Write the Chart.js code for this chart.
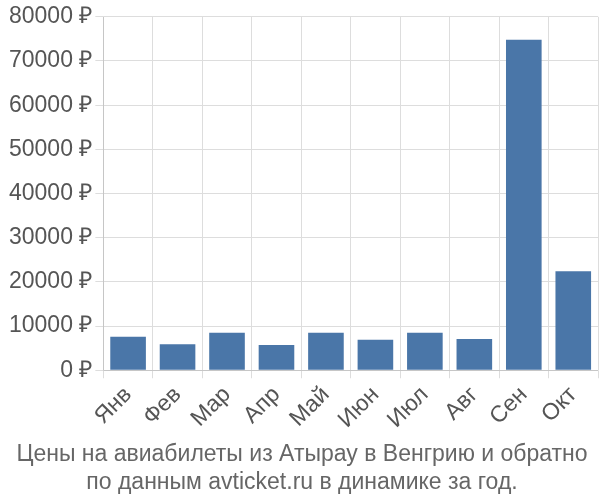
<!DOCTYPE html>
<html><head><meta charset="utf-8">
<script src="https://cdn.jsdelivr.net/npm/chart.js@4"></script>
<style>body{margin:0;background:#fff}#w{width:600px;height:500px}</style></head>
<body><div id="w"><canvas id="c"></canvas></div>
<script>
const categories=["Янв","Фев","Мар","Апр","Май","Июн","Июл","Авг","Сен","Окт"];
const prices=[7600,5900,8500,5700,8500,6900,8500,7100,74800,22400];
const titleLines=["Цены на авиабилеты из Атырау в Венгрию и обратно","по данным avticket.ru в динамике за год."];
new Chart(document.getElementById('c'),{type:'bar',
data:{labels:categories,datasets:[{data:prices,backgroundColor:'#4a76a8',barPercentage:0.72,categoryPercentage:1}]},
options:{responsive:true,maintainAspectRatio:false,animation:false,
layout:{padding:{left:6,right:2,top:4}},
plugins:{legend:{display:false},title:{display:true,position:'bottom',text:titleLines,color:'#666',font:{family:'Liberation Sans',size:23,weight:'normal'},padding:{top:4,bottom:4}}},
scales:{x:{grid:{color:'#ddd',drawTicks:true,tickLength:8},ticks:{color:'#555',font:{family:'Liberation Sans',size:23},maxRotation:45,minRotation:45}},
y:{min:0,max:80000,ticks:{stepSize:10000,color:'#555',font:{family:'Liberation Sans',size:23},callback:v=>v+' ₽'},grid:{color:'#ddd',tickLength:8}}}}});
</script></body></html>
